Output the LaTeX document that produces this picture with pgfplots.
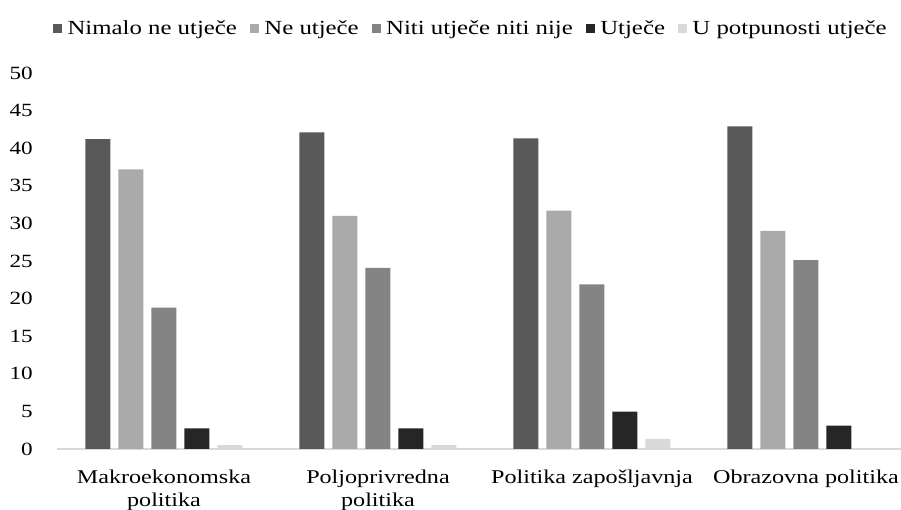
\documentclass[border=0pt]{standalone}
\usepackage{fontspec}
\setmainfont{Liberation Serif}[FakeStretch=1.24]
\usepackage{pgfplots}
\pgfplotsset{compat=1.18}
\definecolor{cA}{RGB}{89,89,89}
\definecolor{cB}{RGB}{170,170,170}
\definecolor{cC}{RGB}{132,132,132}
\definecolor{cD}{RGB}{38,38,38}
\definecolor{cE}{RGB}{217,217,217}
\begin{document}
\begin{tikzpicture}
\begin{axis}[
  at={(0,0)}, anchor=south west,
  scale only axis,
  width=633pt, height=282pt,
  xmin=-0.5, xmax=3.444,
  ymin=0, ymax=50,
  ytick={0,5,...,50},
  xtick={0,1,2,3},
  xticklabels={{Makroekonomska\\politika},{Poljoprivredna\\politika},{Politika zapošljavnja},{Obrazovna politika}},
  axis lines=left,
  axis line style={-},
  y axis line style={draw=none},
  x axis line style={draw=cE, line width=0.8pt},
  major tick length=0pt,
  /pgf/number format/assume math mode=true,
  yticklabel style={font=\fontsize{14}{16.5}\selectfont, anchor=east, inner sep=0pt, xshift=-18pt},
  xticklabel style={font=\fontsize{14.6}{17.5}\selectfont, anchor=north, inner sep=0pt, yshift=-15.5pt, align=center},
  ybar, bar width=18.75pt,
  legend columns=5,
  legend style={draw=none, font=\fontsize{15}{17}\selectfont, at={(0.491,1.118)}, anchor=center,
    /tikz/every odd column/.append style={column sep=2pt},
    /tikz/every even column/.append style={column sep=8pt}},
  legend image code/.code={\fill[#1] (0pt,-3.3pt) rectangle (6.6pt,3.3pt);},
]
\addplot[fill=cA, draw=none, bar shift=-49.5pt] coordinates {(0,41.2) (1,42.1) (2,41.3) (3,42.9)};
\addplot[fill=cB, draw=none, bar shift=-24.75pt] coordinates {(0,37.2) (1,31.0) (2,31.7) (3,29.0)};
\addplot[fill=cC, draw=none, bar shift=0pt] coordinates {(0,18.8) (1,24.1) (2,21.9) (3,25.1)};
\addplot[fill=cD, draw=none, bar shift=24.75pt] coordinates {(0,2.75) (1,2.75) (2,4.96) (3,3.1)};
\addplot[fill=cE, draw=none, bar shift=49.5pt] coordinates {(0,0.53) (1,0.53) (2,1.33) (3,0)};
\legend{Nimalo ne utječe, Ne utječe, Niti utječe niti nije, Utječe, U potpunosti utječe}
\end{axis}
\pgfresetboundingbox
\path[use as bounding box] (-42.75pt,-45.75pt) rectangle (633pt,336.75pt);
\end{tikzpicture}
\end{document}
